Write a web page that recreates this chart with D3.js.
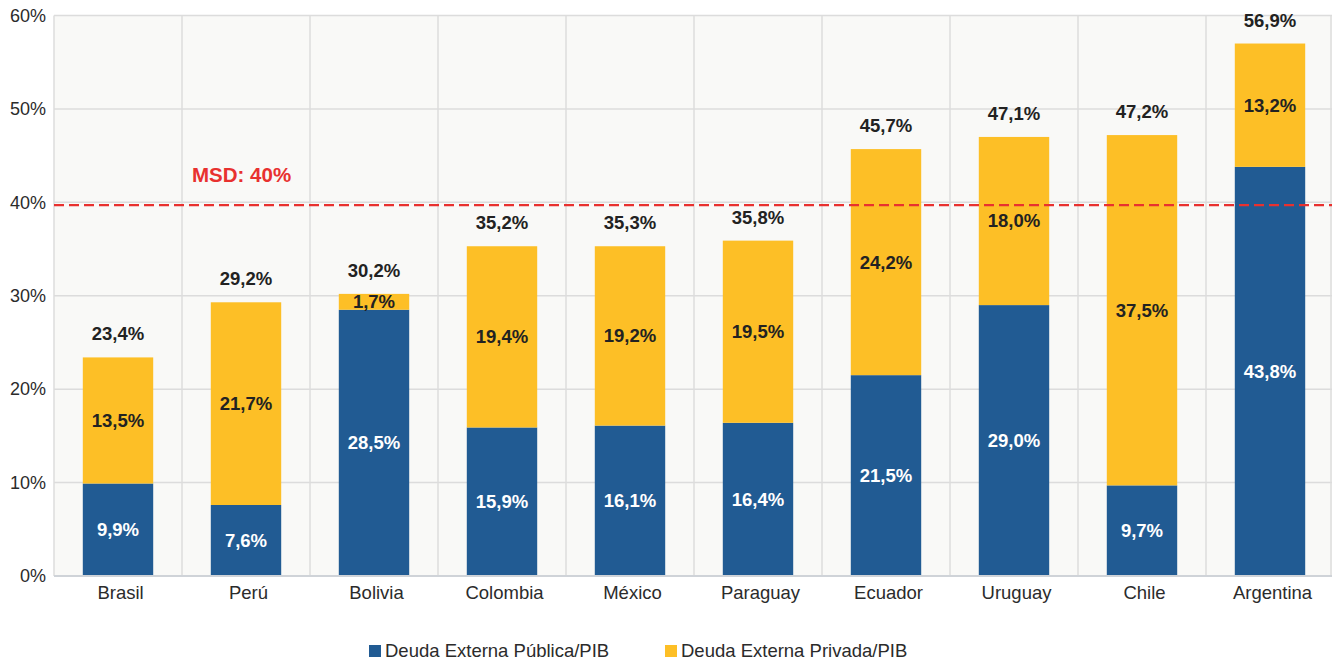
<!DOCTYPE html>
<html><head><meta charset="utf-8">
<script src="https://cdn.jsdelivr.net/npm/d3@7"></script>
<style>
body{margin:0;background:#fff;}
text{font-family:"Liberation Sans",Arial,Helvetica,sans-serif;}
</style></head>
<body><svg id="c" width="1332" height="662"></svg>
<script>
const categories = ["Brasil","Perú","Bolivia","Colombia","México","Paraguay","Ecuador","Uruguay","Chile","Argentina"];
const publica = [9.9,7.6,28.5,15.9,16.1,16.4,21.5,29.0,9.7,43.8];
const privada = [13.5,21.7,1.7,19.4,19.2,19.5,24.2,18.0,37.5,13.2];
const totals = [23.4,29.2,30.2,35.2,35.3,35.8,45.7,47.1,47.2,56.9];
const yTicks = [0,10,20,30,40,50,60];
const seriesNames = ["Deuda Externa Pública/PIB","Deuda Externa Privada/PIB"];
const msdLabel = "MSD: 40%";
const msdValue = 39.7;

const colors = ["#215b93","#fdbf26"];
const fmt = v => d3.format(".1f")(v).replace(".", ",") + "%";

const svg = d3.select("#c");
const pL = 54, pR = 1334, pT = 15.5, pB = 576;
const x = d3.scaleBand().domain(categories).range([pL, pR]).paddingInner(0).paddingOuter(0);
const y = d3.scaleLinear().domain([0,60]).range([pB, pT]);
const barW = x.bandwidth() * 0.55;

svg.append("rect").attr("x", pL).attr("y", pT).attr("width", pR-pL).attr("height", pB-pT).attr("fill", "#f9f9f7");

// horizontal grid
svg.append("g").selectAll("line").data(yTicks).join("line")
  .attr("x1", pL).attr("x2", pR).attr("y1", d=>y(d)).attr("y2", d=>y(d))
  .attr("stroke", "#dcdcdc").attr("stroke-width", 1.5);
// vertical grid
const vx = categories.map(c => x(c)).concat([1331]);
svg.append("g").selectAll("line").data(vx).join("line")
  .attr("x1", d=>d).attr("x2", d=>d).attr("y1", pT).attr("y2", pB)
  .attr("stroke", "#dcdcdc").attr("stroke-width", 1.5);

// y axis labels
const yAxis = d3.axisLeft(y).tickValues(yTicks).tickSize(0).tickPadding(8).tickFormat(d => d + "%");
const ga = svg.append("g").attr("transform", `translate(${pL},0)`).call(yAxis);
ga.select(".domain").remove();
ga.selectAll("text").attr("font-size", 18).attr("fill", "#2b2b2b").attr("font-family", "Liberation Sans, Arial, sans-serif");

// x axis labels
const xAxis = d3.axisBottom(x).tickSize(0).tickPadding(10);
const gx = svg.append("g").attr("transform", `translate(2.5,${pB})`).call(xAxis);
gx.select(".domain").remove();
gx.selectAll("text").attr("font-size", 18.5).attr("fill", "#2b2b2b").attr("font-family", "Liberation Sans, Arial, sans-serif");

// bars
const data = categories.map((c,i) => ({c, pub: publica[i], priv: privada[i], tot: totals[i]}));
const gb = svg.append("g");
gb.selectAll(".pub").data(data).join("rect")
  .attr("x", d => x(d.c) + (x.bandwidth()-barW)/2).attr("width", barW)
  .attr("y", d => y(d.pub)).attr("height", d => y(0) - y(d.pub)).attr("fill", colors[0]);
gb.selectAll(".priv").data(data).join("rect")
  .attr("x", d => x(d.c) + (x.bandwidth()-barW)/2).attr("width", barW)
  .attr("y", d => y(d.pub + d.priv)).attr("height", d => y(d.pub) - y(d.pub + d.priv)).attr("fill", colors[1]);
// baseline
svg.append("line").attr("x1", pL).attr("x2", pR).attr("y1", pB).attr("y2", pB)
  .attr("stroke", "#cfd3d8").attr("stroke-width", 2);

// labels
const lbl = svg.append("g").attr("font-weight", "bold").attr("font-size", 18.5).attr("text-anchor", "middle");
lbl.selectAll(".lp").data(data).join("text")
  .attr("x", d => x(d.c) + x.bandwidth()/2).attr("y", d => (y(0)+y(d.pub))/2).attr("dy", "0.35em")
  .attr("fill", "#ffffff").text(d => fmt(d.pub));
lbl.selectAll(".lv").data(data).join("text")
  .attr("x", d => x(d.c) + x.bandwidth()/2).attr("y", d => (y(d.pub)+y(d.pub+d.priv))/2).attr("dy", "0.35em")
  .attr("fill", "#222").text(d => fmt(d.priv));
lbl.selectAll(".lt").data(data).join("text")
  .attr("x", d => x(d.c) + x.bandwidth()/2).attr("y", d => y(d.pub+d.priv) - 17)
  .attr("fill", "#222").text(d => fmt(d.tot));

// MSD line
svg.append("line").attr("x1", pL).attr("x2", pR).attr("y1", y(msdValue)).attr("y2", y(msdValue))
  .attr("stroke", "#e8312f").attr("stroke-width", 2.2).attr("stroke-dasharray", "10,5");
svg.append("text").attr("x", 192).attr("y", 182).attr("font-size", 20.5).attr("font-weight", "bold")
  .attr("fill", "#e8312f").text(msdLabel);

// legend
const lg = svg.append("g").attr("font-size", 18.5);
const lx = [369, 665];
seriesNames.forEach((n,i) => {
  lg.append("rect").attr("x", lx[i]).attr("y", 645).attr("width", 12).attr("height", 12).attr("fill", colors[i]);
  lg.append("text").attr("x", lx[i] + 16).attr("y", 657).attr("fill", "#2b2b2b").text(n);
});
</script></body></html>
